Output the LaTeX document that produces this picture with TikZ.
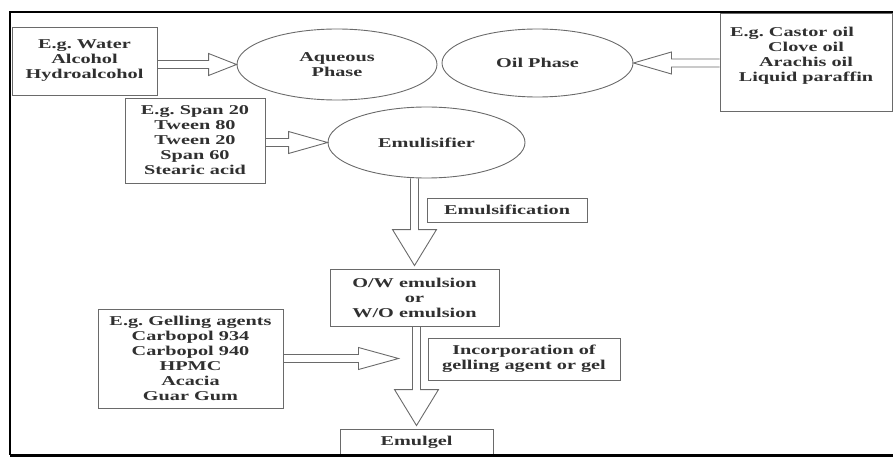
\documentclass[tikz,border=0pt]{standalone}
\usepackage{fontspec}
\usepackage{tikz}
\usetikzlibrary{positioning,calc,shapes.geometric}
\newfontfamily\flowfont{Liberation Serif}[FakeStretch=1.5]
\definecolor{inkgrey}{HTML}{303030}
\definecolor{linegrey}{HTML}{6A6A6A}
\tikzset{
  fl/.style={align=center, inner sep=0pt, text=inkgrey,
             font=\flowfont\bfseries\fontsize{13.5pt}{15pt}\selectfont},
  fl box/.style={fl, draw=linegrey, line width=0.9pt},
  fl oval/.style={fl, ellipse, draw=linegrey, line width=0.9pt},
  fl hollow/.style={draw=linegrey, line width=0.9pt, line join=miter},
  fl frame/.style={draw=black, line width=2pt},
}
% hollow block arrows: shaft from #1 to the tip #2
\newcommand{\hblock}[3]{%
  \draw[fl hollow] let \p1=(#1), \p2=(#2) in
    (\x1,\y2+4pt) -- ({\x2-(#3)},\y2+4pt) -- ({\x2-(#3)},\y2+11pt) -- (\x2,\y2)
    -- ({\x2-(#3)},\y2-11pt) -- ({\x2-(#3)},\y2-4pt) -- (\x1,\y2-4pt);}
\newcommand{\vblock}[2]{%
  \draw[fl hollow] let \p1=(#1), \p2=(#2) in
    (\x2-4pt,\y1) -- (\x2-4pt,\y2+39pt) -- (\x2-22pt,\y2+39pt) -- (\x2,\y2+3pt)
    -- (\x2+22pt,\y2+39pt) -- (\x2+4pt,\y2+39pt) -- (\x2+4pt,\y1);}

\begin{document}
\begin{tikzpicture}[x=1pt, y=-1pt]
  \useasboundingbox (0,0) rectangle (893,465);
  % phases
  \node[fl box, minimum width=145, minimum height=68] (wat) at (84.5,61) {E.g.\ Water\\Alcohol\\Hydroalcohol};
  \node[fl oval, minimum width=200, minimum height=71] (aq) at (337,64.5) {Aqueous\\Phase};
  \node[fl oval, minimum width=191, minimum height=68] (oil) at (537.5,63) {Oil Phase};
  \node[fl box, minimum width=172, minimum height=98] (cas) at (806,62) {E.g.\ Castor oil\hspace*{28pt}\\Clove oil\\Arachis oil\\Liquid paraffin\\};
  % emulsifier
  \node[fl box, minimum width=140, minimum height=85] (spn) at (195,140.5) {E.g.\ Span 20\\Tween 80\\Tween 20\\Span 60\\Stearic acid};
  \node[fl oval, minimum width=197, minimum height=71] (emu) at (426.5,142.5) {Emulisifier};
  \node[fl box, minimum width=160, minimum height=24] (emf) at (507,210) {Emulsification};
  \node[fl box, minimum width=169, minimum height=57] (ow) at (414.5,297.5) {O/W emulsion\\or\\W/O emulsion};
  % gel
  \node[fl box, minimum width=185, minimum height=99] (gel) at (190.5,358.5) {E.g.\ Gelling agents\\Carbopol 934\\Carbopol 940\\HPMC\\Acacia\\Guar Gum};
  \node[fl box, minimum width=192, minimum height=42] (inc) at (524,359) {Incorporation of\\gelling agent or gel};
  \node[fl box, minimum width=153, minimum height=26] (emg) at (416.5,442) {Emulgel};
  \coordinate (gjoin) at ([xshift=-16pt]gel.east -| ow.south);

  \hblock{wat.east}{aq.west}{28pt}
  \hblock{cas.west}{oil.east}{-38pt}
  \hblock{spn.east}{emu.west}{39pt}
  \hblock{gel.east}{gjoin}{40pt}
  \vblock{emu.south}{ow.north}
  \vblock{ow.south}{emg.north}

  % frame
  \draw[fl frame] (893,12) -- (10,12) -- (10,455);
  \draw[black, line width=3pt] (10,455) -- (893,455);
\end{tikzpicture}
\end{document}
